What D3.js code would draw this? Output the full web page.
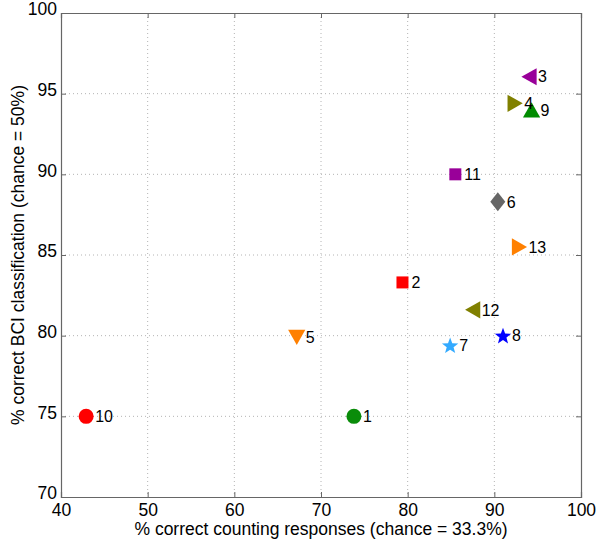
<!DOCTYPE html>
<html>
<head>
<meta charset="utf-8">
<script src="https://cdn.jsdelivr.net/npm/d3@7"></script>
<style>
  html, body { margin: 0; padding: 0; background: #fff; }
  svg { display: block; font-family: "Liberation Sans", Arial, sans-serif; }
</style>
</head>
<body>
<svg id="chart" width="600" height="543"></svg>
<script>
// ---- data ----
const subjects = ["1","2","3","4","5","6","7","8","9","10","11","12","13"];
const countingPct = [73.8, 79.4, 94.0, 92.4, 67.2, 90.4, 84.9, 91.0, 94.3, 42.9, 85.5, 87.5, 92.9];
const bciPct      = [75.0, 83.3, 96.05, 94.4, 79.9, 88.3, 79.4, 80.0, 94.0, 75.0, 90.0, 81.6, 85.5];
const markers = ["circle","square","triangleLeft","triangleRight","triangleDown","diamond","star","star","triangleUp","circle","square","triangleLeft","triangleRight"];
const colors  = ["#0a8c0a","#ff0000","#990099","#808000","#ff8000","#666666","#33aaff","#0000ff","#008c00","#ff0000","#990099","#808000","#ff8000"];
const xTicks = [40, 50, 60, 70, 80, 90, 100];
const yTicks = [70, 75, 80, 85, 90, 95, 100];
const xLabel = "% correct counting responses (chance = 33.3%)";
const yLabel = "% correct BCI classification (chance = 50%)";

// ---- layout ----
const svg = d3.select("#chart");
const L = 61, R = 581, T = 13, B = 497;
const x = d3.scaleLinear().domain([40, 100]).range([L, R]);
const y = d3.scaleLinear().domain([70, 100]).range([B, T]);

const axisColor = "#666666";
const gridColor = "#b4b4b4";

// grid
const grid = svg.append("g");
grid.selectAll(".gx").data(xTicks.slice(1, -1)).enter().append("line")
  .attr("x1", d => x(d)).attr("x2", d => x(d)).attr("y1", T).attr("y2", B)
  .attr("stroke", gridColor).attr("stroke-width", 1).attr("stroke-dasharray", "1,3");
grid.selectAll(".gy").data(yTicks.slice(1, -1)).enter().append("line")
  .attr("x1", L).attr("x2", R).attr("y1", d => y(d)).attr("y2", d => y(d))
  .attr("stroke", gridColor).attr("stroke-width", 1).attr("stroke-dasharray", "1,3");

// axes
const fontSize = 17.5;
const xAxis = d3.axisBottom(x).tickValues(xTicks).tickSize(-5).tickPadding(6).tickFormat(d3.format("d"));
const yAxis = d3.axisLeft(y).tickValues(yTicks).tickSize(-5).tickPadding(4).tickFormat(d3.format("d"));
const gx = svg.append("g").attr("transform", `translate(0,${B})`).call(xAxis);
const gy = svg.append("g").attr("transform", `translate(${L},0)`).call(yAxis);
const gxT = svg.append("g").attr("transform", `translate(0,${T})`).call(d3.axisTop(x).tickValues(xTicks).tickSize(-5).tickFormat(""));
const gyR = svg.append("g").attr("transform", `translate(${R},0)`).call(d3.axisRight(y).tickValues(yTicks).tickSize(-5).tickFormat(""));
[gx, gy, gxT, gyR].forEach(g => {
  g.select(".domain").attr("stroke", axisColor).attr("stroke-width", 1.2);
  g.selectAll(".tick line").attr("stroke", axisColor);
  g.selectAll(".tick text").attr("fill", "#000").attr("font-size", fontSize)
    .attr("font-family", "'Liberation Sans', Arial, sans-serif");
});
gx.selectAll(".tick text").attr("dy", "0.72em");
gy.selectAll(".tick text").attr("dy", "0.1em");

// axis labels
svg.append("text").attr("x", (L + R) / 2).attr("y", 535).attr("text-anchor", "middle")
  .attr("font-size", fontSize).attr("fill", "#000").text(xLabel);
svg.append("text").attr("transform", `translate(24,${(T + B) / 2}) rotate(-90)`)
  .attr("text-anchor", "middle").attr("font-size", fontSize).attr("fill", "#000").text(yLabel);

// marker paths centered at bbox center
function markerPath(type) {
  const p = d3.path();
  const tri = (pts) => { p.moveTo(pts[0][0], pts[0][1]); pts.slice(1).forEach(q => p.lineTo(q[0], q[1])); p.closePath(); };
  const b = 8.6, h = 7.6; // half-base, half-height of triangles
  switch (type) {
    case "circle": p.arc(0, 0, 7.5, 0, 2 * Math.PI); break;
    case "square": p.rect(-6, -6, 12, 12); break;
    case "diamond": tri([[0, -9.5], [7.5, 0], [0, 9.5], [-7.5, 0]]); break;
    case "triangleUp": tri([[0, -h], [b, h], [-b, h]]); break;
    case "triangleDown": tri([[0, h], [b, -h], [-b, -h]]); break;
    case "triangleLeft": tri([[-h, 0], [h, -b], [h, b]]); break;
    case "triangleRight": tri([[h, 0], [-h, -b], [-h, b]]); break;
    case "star": {
      const ro = 8.6, ri = 3.6, pts = [];
      for (let i = 0; i < 10; i++) {
        const r = i % 2 === 0 ? ro : ri;
        const a = -Math.PI / 2 + i * Math.PI / 5;
        pts.push([r * Math.cos(a), r * Math.sin(a) + 0.8]);
      }
      tri(pts);
      break;
    }
  }
  return p.toString();
}

const pts = subjects.map((s, i) => ({ s, xv: countingPct[i], yv: bciPct[i], m: markers[i], c: colors[i] }));
const g = svg.append("g");
g.selectAll("path.mk").data(pts).enter().append("path")
  .attr("class", "mk")
  .attr("transform", d => `translate(${x(d.xv)},${y(d.yv)})`)
  .attr("d", d => markerPath(d.m))
  .attr("fill", d => d.c);
g.selectAll("text.lb").data(pts).enter().append("text")
  .attr("class", "lb")
  .attr("x", d => x(d.xv) + 9).attr("y", d => y(d.yv))
  .attr("dy", "0.36em").attr("font-size", 16).attr("fill", "#000")
  .text(d => d.s);
</script>
</body>
</html>
